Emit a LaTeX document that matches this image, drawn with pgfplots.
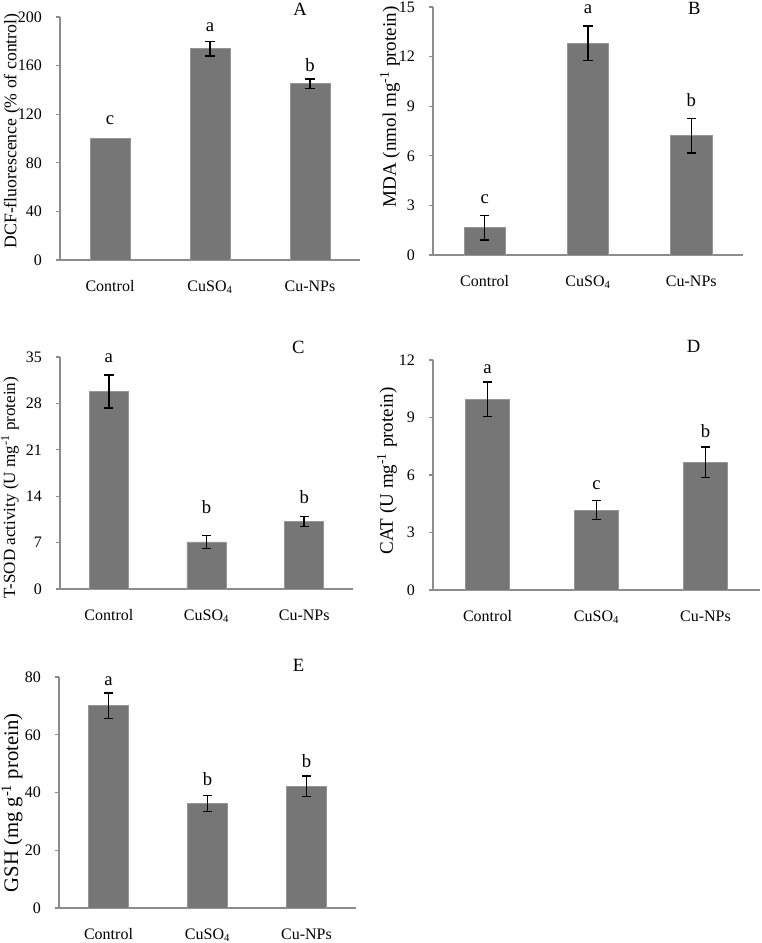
\documentclass[border=0pt]{standalone}
\usepackage{fontspec}
\setmainfont{Liberation Serif}
\usepackage{pgfplots}
\pgfplotsset{compat=1.18}

\definecolor{barfill}{RGB}{118,118,118}
\definecolor{baredge}{RGB}{150,150,150}
\definecolor{axgray}{RGB}{140,140,140}

\tikzset{lett/.style={font=\fontsize{14}{16}\selectfont}}

\pgfplotsset{
  panel/.style={
    scale only axis, anchor=south west, clip=false,
    axis lines=left, axis line style={-, draw=axgray, line width=0.8pt},
    xmin=-0.5, xmax=2.5, xtick={0,1,2},
    xticklabels={Control, CuSO\textsubscript{4}, Cu-NPs},
    x tick style={draw=none},
    y tick style={draw=axgray, line width=0.8pt},
    tick align=outside, major tick length=3pt,
    ymin=0,
    /pgf/number format/assume math mode=true,
    tick label style={font=\fontsize{12}{14}\selectfont},
    xticklabel style={yshift=-9pt},
    yticklabel style={xshift=-7pt},
    every axis y label/.style={at={(axis description cs:0,0.5)}, rotate=90, anchor=center},
  },
  bars/.style={
    ybar, bar width=0.4, bar shift=0pt, fill=barfill, draw=baredge, line width=0.6pt,
    error bars/.cd, y dir=both, y explicit,
    error bar style={black, line width=1.1pt},
    error mark options={rotate=90, black, mark size=3.5pt, line width=1.1pt},
  },
}

\begin{document}
\begin{tikzpicture}
\path[use as bounding box] (0,0) rectangle (570.75pt,-707.25pt);

% A
\begin{axis}[panel, at={(45pt,-195pt)}, width=225pt, height=182.25pt,
  ymax=200, ytick={0,40,...,200},
  ylabel={DCF-fluorescence (\% of control)},
  ylabel style={font=\fontsize{13.3}{15}\selectfont, at={(axis description cs:0,0.531)}, yshift=36pt}]
\addplot[bars] coordinates {(0,100)};
\addplot[bars] coordinates {(1,174) +- (0,6) (2,145) +- (0,4)};
\node[lett] at (axis cs:1,191.8) {a};
\node[lett] at (axis cs:2,160.5) {b};
\node[lett] at (axis cs:0,115.2) {c};
\node[lett] at (axis cs:1.9,206) {A};
\end{axis}

% B
\begin{axis}[panel, at={(324.75pt,-191.25pt)}, width=232.5pt, height=186pt,
  ymax=15, ytick={0,3,...,15},
  ylabel={MDA (nmol mg\textsuperscript{-1} protein)},
  ylabel style={font=\fontsize{14.3}{16}\selectfont, at={(axis description cs:0,0.597)}, yshift=32.25pt}]
\addplot[bars] coordinates {(0,1.65) +- (0,0.75) (1,12.8) +- (0,1.05) (2,7.22) +- (0,1.05)};
\node[lett] at (axis cs:1,14.87) {a};
\node[lett] at (axis cs:2,9.35) {b};
\node[lett] at (axis cs:0,3.35) {c};
\node[lett] at (axis cs:2.03,14.92) {B};
\end{axis}

% C
\begin{axis}[panel, at={(45pt,-441.75pt)}, width=219.75pt, height=174pt,
  ymax=35, ytick={0,7,...,35},
  ylabel={T-SOD activity (U mg\textsuperscript{-1} protein)},
  ylabel style={font=\fontsize{12.8}{15}\selectfont, at={(axis description cs:0,0.437)}, yshift=37.5pt}]
\addplot[bars] coordinates {(0,29.8) +- (0,2.5) (1,7.1) +- (0,1.0) (2,10.15) +- (0,0.75)};
\node[lett] at (axis cs:0,34.85) {a};
\node[lett] at (axis cs:1,12.4) {b};
\node[lett] at (axis cs:2,13.85) {b};
\node[lett] at (axis cs:1.94,36.5) {C};
\end{axis}

% D
\begin{axis}[panel, at={(324.75pt,-442.5pt)}, width=245.25pt, height=172.5pt,
  ymax=12, ytick={0,3,...,12},
  ylabel={CAT (U mg\textsuperscript{-1} protein)},
  ylabel style={font=\fontsize{14.3}{16}\selectfont, at={(axis description cs:0,0.517)}, yshift=34.5pt}]
\addplot[bars] coordinates {(0,9.95) +- (0,0.9) (1,4.17) +- (0,0.5) (2,6.66) +- (0,0.8)};
\node[lett] at (axis cs:0,11.52) {a};
\node[lett] at (axis cs:1,5.46) {c};
\node[lett] at (axis cs:2,8.3) {b};
\node[lett] at (axis cs:1.89,12.69) {D};
\end{axis}

% E
\begin{axis}[panel, at={(44.25pt,-681pt)}, width=222.75pt, height=173.25pt,
  ymax=80, ytick={0,20,...,80},
  ylabel={GSH (mg g\textsuperscript{-1} protein)},
  ylabel style={font=\fontsize{15.5}{17}\selectfont, at={(axis description cs:0,0.455)}, yshift=35.25pt}]
\addplot[bars] coordinates {(0,70) +- (0,4.4) (1,36.2) +- (0,2.8) (2,42.2) +- (0,3.6)};
\node[lett] at (axis cs:0,78.7) {a};
\node[lett] at (axis cs:1,44.6) {b};
\node[lett] at (axis cs:2,51.0) {b};
\node[lett] at (axis cs:1.92,83.9) {E};
\end{axis}
\end{tikzpicture}
\end{document}
